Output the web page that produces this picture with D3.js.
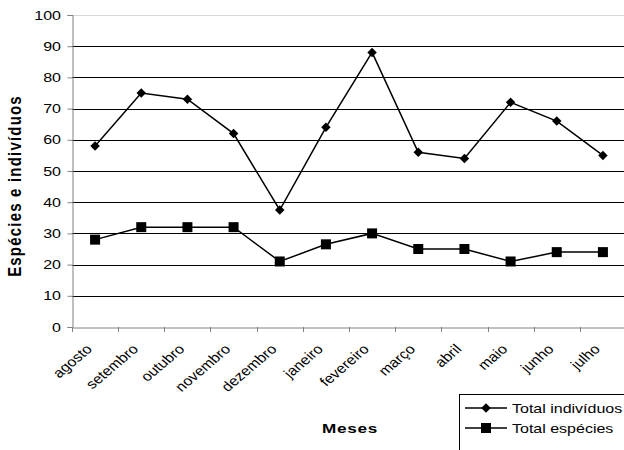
<!DOCTYPE html>
<html><head><meta charset="utf-8">
<script src="https://cdn.jsdelivr.net/npm/d3@7"></script>
<style>body{margin:0;background:#fff}svg{display:block;font-family:"Liberation Sans",Arial,sans-serif}</style>
</head><body>
<script>
const months = ["agosto","setembro","outubro","novembro","dezembro","janeiro","fevereiro","março","abril","maio","junho","julho"];
const totalIndividuos = [58,75,73,62,37.5,64,88,56,54,72,66,55];
const totalEspecies = [28,32,32,32,21,26.5,30,25,25,21,24,24];
const yTicks = [0,10,20,30,40,50,60,70,80,90,100];
const seriesNames = ["Total indivíduos","Total espécies"];

(function(){
const W=624,H=450, SX=1.27;
const svg=d3.select("body").append("svg").attr("width",W).attr("height",H);
const pL=72, pR=626, pT=15, pB=327;
const x=d3.scaleBand().domain(months).range([pL,pR]);
const y=d3.scaleLinear().domain([0,100]).range([pB,pT]);

// gridlines
svg.append("g").selectAll("line").data(yTicks.filter(d=>d>0)).join("line")
 .attr("x1",pL).attr("x2",W).attr("y1",d=>Math.round(y(d))+0.5).attr("y2",d=>Math.round(y(d))+0.5)
 .attr("stroke",d=>d===100?"#d8d8d8":"#000").attr("stroke-width",1);

// y axis
const ya=svg.append("g").attr("transform",`translate(${pL+0.5},0)`)
 .call(d3.axisLeft(y).tickValues(yTicks).tickSize(5).tickFormat(""));
ya.select(".domain").attr("stroke","#808080");
ya.selectAll(".tick line").attr("stroke","#808080");
svg.append("g").selectAll("text").data(yTicks).join("text")
 .attr("transform",d=>`translate(61,${y(d)+4.5}) scale(${SX},1)`)
 .attr("text-anchor","end").attr("font-size",12.6).text(d=>d);

// x axis
const xa=svg.append("g").attr("transform",`translate(0,${pB+0.5})`)
 .call(d3.axisBottom(x).tickSize(0).tickFormat(""));
xa.select(".domain").attr("stroke","#808080");
const bounds=months.map((m)=>x(m)+x.bandwidth()).slice(0,11);
svg.append("g").selectAll("line").data([pL,...bounds]).join("line")
 .attr("x1",d=>Math.round(d)+0.5).attr("x2",d=>Math.round(d)+0.5).attr("y1",pB).attr("y2",pB+5)
 .attr("stroke","#808080");
svg.append("g").selectAll("text").data(months).join("text")
 .attr("transform",d=>`translate(${x(d)+x.bandwidth()/2-2},${pB+23}) scale(1.18,1) rotate(-45)`)
 .attr("text-anchor","end").attr("font-size",13.5).text(d=>d);

// lines
const cx=d=>x(d)+x.bandwidth()/2;
const line=d3.line().x((d,i)=>cx(months[i])).y(d=>y(d));
svg.append("path").datum(totalIndividuos).attr("d",line).attr("fill","none").attr("stroke","#000").attr("stroke-width",1.5);
svg.append("path").datum(totalEspecies).attr("d",line).attr("fill","none").attr("stroke","#000").attr("stroke-width",1.5);
svg.append("g").selectAll("path").data(totalIndividuos).join("path")
 .attr("transform",(d,i)=>`translate(${cx(months[i])},${y(d)}) rotate(45)`)
 .attr("d",d3.symbol().type(d3.symbolSquare).size(45)).attr("fill","#000");
svg.append("g").selectAll("rect").data(totalEspecies).join("rect")
 .attr("x",(d,i)=>cx(months[i])-5).attr("y",d=>y(d)-5).attr("width",10).attr("height",10).attr("fill","#000");

// titles
svg.append("text").attr("transform",`translate(21,${(pT+pB)/2+15}) scale(${SX},1) rotate(-90)`).attr("text-anchor","middle")
 .attr("font-weight","bold").attr("font-size",15).attr("letter-spacing",1.2).text("Espécies e indivíduos");
svg.append("text").attr("transform",`translate(350,433) scale(${SX},1)`).attr("text-anchor","middle").attr("font-weight","bold")
 .attr("font-size",13.5).attr("letter-spacing",0.6).text("Meses");

// legend
const lg=svg.append("g");
lg.append("rect").attr("x",459.5).attr("y",394.5).attr("width",200).attr("height",100).attr("fill","#fff").attr("stroke","#000");
seriesNames.forEach((n,i)=>{
 const yy=408+i*20;
 lg.append("line").attr("x1",465).attr("x2",507).attr("y1",yy).attr("y2",yy).attr("stroke","#000").attr("stroke-width",1.5);
 if(i===0) lg.append("path").attr("transform",`translate(486,${yy}) rotate(45)`).attr("d",d3.symbol().type(d3.symbolSquare).size(45)).attr("fill","#000");
 else lg.append("rect").attr("x",481).attr("y",yy-5).attr("width",10).attr("height",10).attr("fill","#000");
 lg.append("text").attr("transform",`translate(512,${yy+4.5}) scale(${SX},1)`).attr("font-size",12.6).text(n);
});
})();
</script>
</body></html>
